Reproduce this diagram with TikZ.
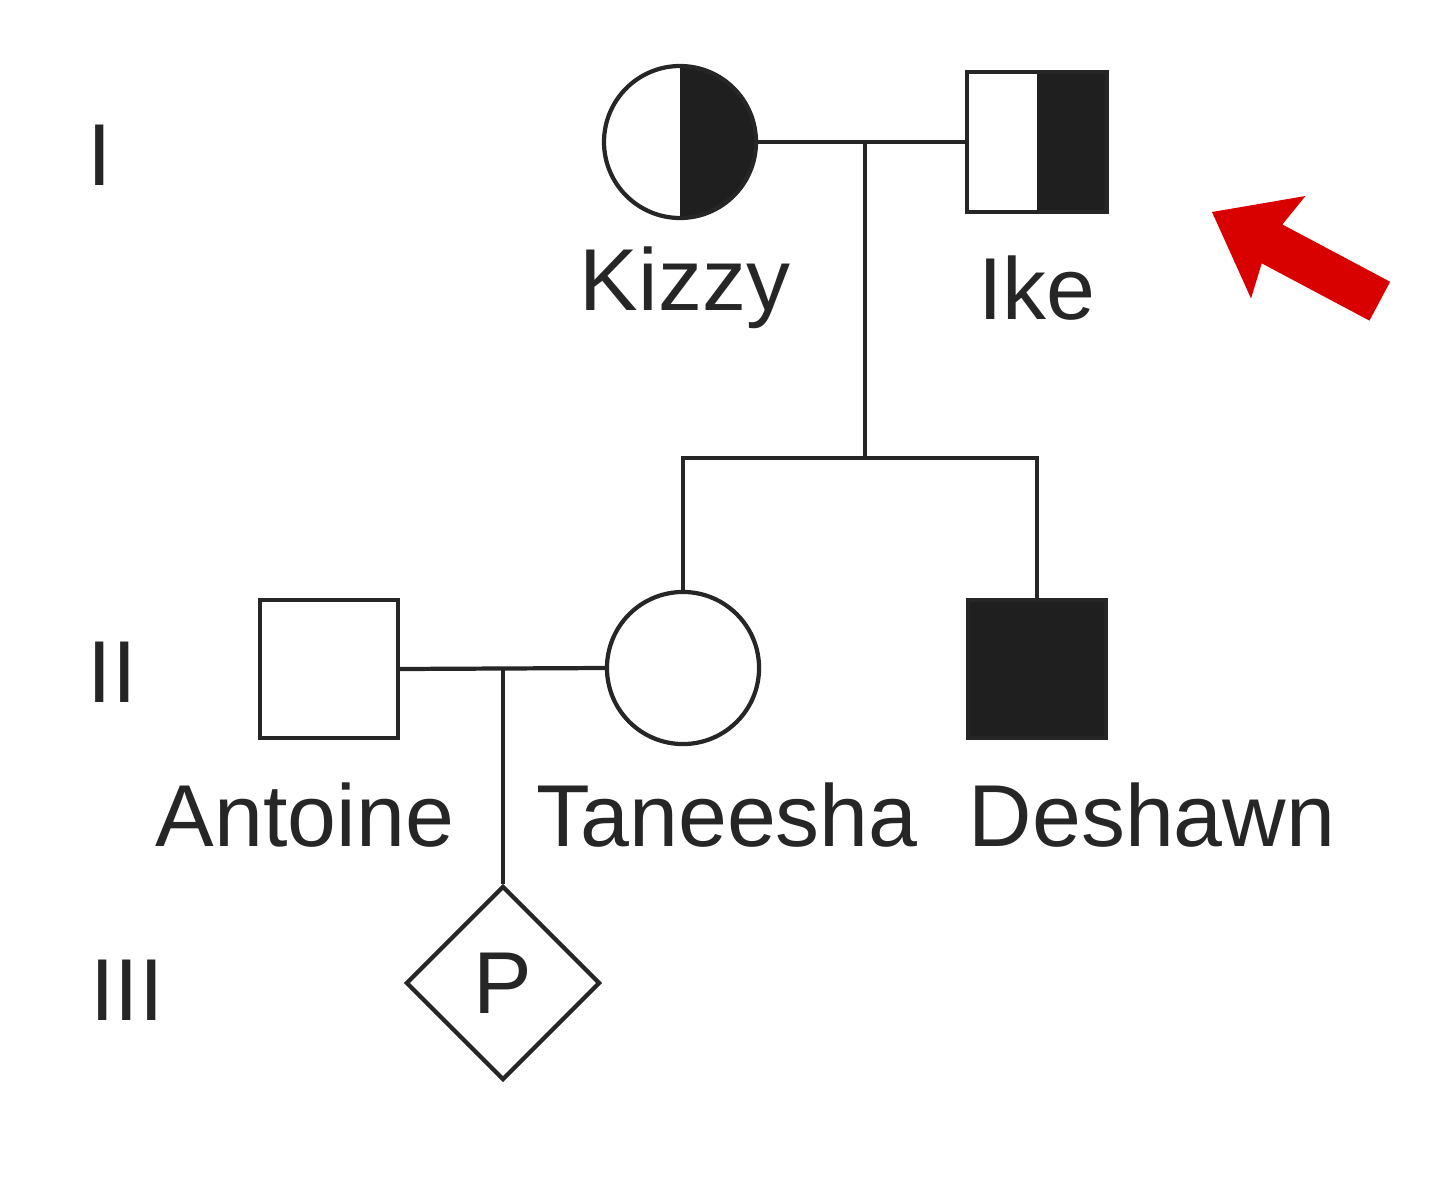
\documentclass[tikz,border=0pt]{standalone}
\usepackage{fontspec}
\setmainfont{Liberation Sans}
\usetikzlibrary{shapes.geometric}
\begin{document}
\begin{tikzpicture}[x=0.01cm,y=-0.01cm,
  ln/.style={line width=1.2pt,draw=black!85},
  lbl/.style={font=\fontsize{25}{28}\selectfont,text=black!85},
  gen/.style={font=\fontsize{25}{28}\selectfont,text=black!85}]
\useasboundingbox (0,0) rectangle (1440,1176);
% generation I
\coordinate (kz) at (680,142);
\fill[black!88] (680,66) arc[start angle=-90,end angle=90,radius=76] -- cycle;
\draw[ln] (kz) circle[radius=76];
\node[draw=none,minimum size=1.52cm,inner sep=0,circle] (kizzy) at (kz) {};
\fill[black!88] (1037,72) rectangle (1107,212);
\draw[ln] (967,72) rectangle (1107,212);
\node[inner sep=0,minimum size=1.4cm] (ike) at (1037,142) {};
\coordinate (m1) at (865,142);
\draw[ln] (kizzy.east) -- (ike.west);
\coordinate (s1) at (865,458);
\draw[ln] (m1) -- (s1);
% generation II
\node[ln,circle,minimum size=1.52cm,inner sep=0] (tan) at (683,668) {};
\node[ln,fill=black!88,minimum size=1.38cm,inner sep=0] (desh) at (1037,669) {};
\node[ln,minimum size=1.38cm,inner sep=0] (ant) at (329,669) {};
\draw[ln] (tan.north) -- (683,458) -- (1037,458) -- (desh.north);
\coordinate (m2) at (503,668);
\draw[ln] (ant.east) -- (tan.west);
% generation III
\node[ln,diamond,shape aspect=1,minimum size=1.94cm,inner sep=0] (p) at (503,983) {};
\node[lbl] at (503,983) {P};
\draw[ln] (m2) -- (p.north);
% labels
\node[lbl] at (685,288) {Kizzy};
\node[lbl] at (1037,288) {Ike};
\node[lbl] at (305,815) {Antoine};
\node[lbl] at (727,815) {Taneesha};
\node[lbl] at (1152,815) {Deshawn};
\node[gen] at (100,155) {I};
\node[gen] at (112,672) {II};
\node[gen] at (127,990) {III};
% red arrow
\begin{scope}[shift={(1212,212)},rotate=-28]
\fill[red!85!black] (0,0) -- (75,-58) -- (68,-22) -- (190,-22) -- (190,22) -- (68,22) -- (75,58) -- cycle;
\end{scope}
\end{tikzpicture}
\end{document}
